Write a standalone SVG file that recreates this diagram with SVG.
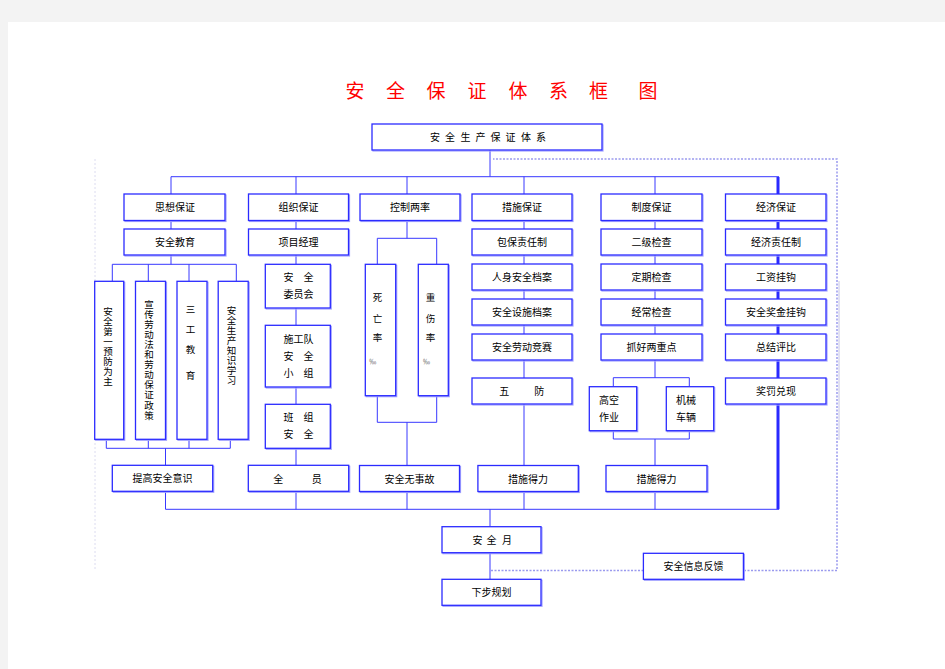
<svg xmlns="http://www.w3.org/2000/svg" width="945" height="669" viewBox="0 0 945 669">
<style>
.bx{fill:#fff;stroke:#2b2bff;stroke-width:1.3}
.sh{fill:none;stroke:#a3a3ff;stroke-width:1.2}
.t{font-family:"Noto Sans CJK SC","Liberation Sans",sans-serif;font-size:10px;fill:#000;text-anchor:middle}
.v{font-size:9.5px}
.pm{font-size:7px;fill:#555}
.ln{stroke:#3838ff;stroke-width:1;fill:none}
.thick{stroke:#2a2aff;stroke-width:3;fill:none}
.dot{stroke:#9a9aee;stroke-width:1.5;stroke-dasharray:2 1.5;fill:none}
.faint{stroke:#dcdcf0;stroke-width:1;stroke-dasharray:2 2;fill:none}
.title{font-family:"Noto Sans CJK SC","Liberation Serif",serif;font-size:19px;fill:#ff0000;text-anchor:middle}
</style>
<rect x="0" y="0" width="945" height="669" fill="#f3f3f3"/>
<rect x="8" y="22" width="937" height="647" fill="#fff"/>
<text class="title" x="355 395.5 436 477 518 558.5 598.5 648" y="98">安全保证体系框图</text>

<g id="connectors">
<path class="faint" d="M95,159 V570"/>
<path d="M839,281 V440" stroke="#c4c4e4" stroke-width="1" fill="none"/>
<path class="dot" d="M491,570.5 H643 M744,570.5 H837 V159 H493"/>
<path class="thick" d="M778,177 V509.3"/>
<path class="ln" d="M490,150 V176.7 M171,176.7 H779 M171,176.7 V194 M296,176.7 V194 M407,176.7 V194 M524,176.7 V194 M655,176.7 V194"/>
<path class="ln" d="M171,220.5 V229 M171,255 V264.3 M112.3,264.3 H236.3 M112.3,264.3 V281.3 M148.3,264.3 V281.3 M189,264.3 V281.3 M236.3,264.3 V281.3 M106.3,439.3 V448.3 M148.3,439.3 V448.3 M189,439.3 V448.3 M230.3,439.3 V448.3 M106.3,448.3 H230.3 M165.5,448.3 V465.3 M165.5,491.5 V509.3"/>
<path class="ln" d="M296,220.5 V229 M296,255 V264.3 M296,308 V325.3 M296,387 V404.3 M296,448.3 V465.3 M296,491.5 V509.3"/>
<path class="ln" d="M407,220.5 V238.3 M377.3,238.3 H436.7 M377.3,238.3 V264.3 M436.7,238.3 V264.3 M377.3,395.7 V422.3 M436.7,395.7 V422.3 M377.3,422.3 H436.7 M407,422.3 V465.5 M407,491.5 V509.3"/>
<path class="ln" d="M524,220.5 V229 M524,255 V264 M524,290 V299 M524,325 V334 M524,360 V378 M524,404 V465.5 M524,491.5 V509.3"/>
<path class="ln" d="M655,220.5 V229 M655,255 V264 M655,290 V299 M655,325 V334 M655,360 V377.7 M613.3,377.7 H689.3 M613.3,377.7 V386.7 M689.3,377.7 V386.7 M613.3,430.7 V439 M689.3,430.7 V439 M613.3,439 H689.3 M655,439 V465.5 M655,491.5 V509.3"/>
<path class="ln" d="M165.5,509.3 H779 M490,509.3 V526.7 M490,552.7 V579.3"/>
</g>

<g id="n-top"><rect class="sh" x="373" y="125" width="230" height="26"/><rect class="bx" x="372" y="124" width="230" height="26"/><text class="t" x="435 450 465.5 480.5 495.5 510.5 526 541" y="141">安全生产保证体系</text></g>

<g id="n-sixiang"><rect class="sh" x="125" y="195" width="101" height="26.5"/><rect class="bx" x="124" y="194" width="101" height="26.5"/><text class="t" x="175" y="211">思想保证</text></g>
<g id="n-zuzhi"><rect class="sh" x="249.5" y="195" width="100" height="26.5"/><rect class="bx" x="248.5" y="194" width="100" height="26.5"/><text class="t" x="298.5" y="211">组织保证</text></g>
<g id="n-kongzhi"><rect class="sh" x="361" y="195" width="100" height="26.5"/><rect class="bx" x="360" y="194" width="100" height="26.5"/><text class="t" x="410" y="211">控制两率</text></g>
<g id="n-cuoshi"><rect class="sh" x="473" y="195" width="100" height="26.5"/><rect class="bx" x="472" y="194" width="100" height="26.5"/><text class="t" x="522" y="211">措施保证</text></g>
<g id="n-zhidu"><rect class="sh" x="602" y="195" width="101" height="26.5"/><rect class="bx" x="601" y="194" width="101" height="26.5"/><text class="t" x="651.5" y="211">制度保证</text></g>
<g id="n-jingji"><rect class="sh" x="726.5" y="195" width="100.5" height="26.5"/><rect class="bx" x="725.5" y="194" width="100.5" height="26.5"/><text class="t" x="776" y="211">经济保证</text></g>

<g id="n-anquanjiaoyu"><rect class="sh" x="125" y="230" width="101" height="26"/><rect class="bx" x="124" y="229" width="101" height="26"/><text class="t" x="175" y="246">安全教育</text></g>
<g id="n-v1"><rect class="sh" x="95.7" y="282.3" width="29" height="158"/><rect class="bx" x="94.7" y="281.3" width="29" height="158"/><text class="t v" x="108 108 108 108 108 108 108 108" y="314.8 324.8 334.8 344.8 354.8 364.8 374.8 384.8">安全第一预防为主</text></g>
<g id="n-v2"><rect class="sh" x="136.5" y="282.3" width="30" height="158"/><rect class="bx" x="135.5" y="281.3" width="30" height="158"/><text class="t v" x="149 149 149 149 149 149 149 149 149 149 149 149" y="307.5 317.6 327.7 337.8 347.9 358 368.1 378.2 388.3 398.4 408.5 418.6">宣传劳动法和劳动保证政策</text></g>
<g id="n-v3"><rect class="sh" x="178" y="282.3" width="30" height="158"/><rect class="bx" x="177" y="281.3" width="30" height="158"/><text class="t v" x="190.5 190.5 190.5 190.5" y="313.3 332.8 352.5 379">三工教育</text></g>
<g id="n-v4"><rect class="sh" x="219.2" y="282.3" width="30" height="158"/><rect class="bx" x="218.2" y="281.3" width="30" height="158"/><text class="t v" x="231.5 231.5 231.5 231.5 231.5 231.5 231.5 231.5" y="313.5 323.5 333.5 343.5 353.5 363.5 373.5 383.5">安全生产知识学习</text></g>
<g id="n-tigao"><rect class="sh" x="113.3" y="466.3" width="100.4" height="26"/><rect class="bx" x="112.3" y="465.3" width="100.4" height="26"/><text class="t" x="162.5" y="482.3">提高安全意识</text></g>

<g id="n-xiangmu"><rect class="sh" x="249.5" y="230" width="100" height="26"/><rect class="bx" x="248.5" y="229" width="100" height="26"/><text class="t" x="298.5" y="246">项目经理</text></g>
<g id="n-weiyuanhui"><rect class="sh" x="266.3" y="265.3" width="65" height="43.7"/><rect class="bx" x="265.3" y="264.3" width="65" height="43.7"/><text class="t" x="298.5" y="281.2">安　全</text><text class="t" x="298.5" y="298.2">委员会</text></g>
<g id="n-shigongdui"><rect class="sh" x="266.3" y="326.3" width="65" height="61.7"/><rect class="bx" x="265.3" y="325.3" width="65" height="61.7"/><text class="t" x="298.5" y="342.5">施工队</text><text class="t" x="298.5" y="360.2">安　全</text><text class="t" x="298.5" y="377.2">小　组</text></g>
<g id="n-banzu"><rect class="sh" x="266.3" y="405.3" width="65" height="44"/><rect class="bx" x="265.3" y="404.3" width="65" height="44"/><text class="t" x="298.5" y="420.5">班　组</text><text class="t" x="298.5" y="438.2">安　全</text></g>
<g id="n-quanyuan"><rect class="sh" x="249.3" y="466.3" width="100.4" height="26"/><rect class="bx" x="248.3" y="465.3" width="100.4" height="26"/><text class="t" x="278.3 316.7" y="482.5">全员</text></g>

<g id="n-siwang"><rect class="sh" x="366.3" y="265.3" width="30.4" height="131.4"/><rect class="bx" x="365.3" y="264.3" width="30.4" height="131.4"/><text class="t v" x="377.5 377.5 377.5" y="301.3 321.8 341.3">死亡率</text><text class="t pm" x="372.7" y="363.5">‰</text></g>
<g id="n-zhongshang"><rect class="sh" x="419.3" y="265.3" width="30" height="131.4"/><rect class="bx" x="418.3" y="264.3" width="30" height="131.4"/><text class="t v" x="430.5 430.5 430.5" y="301.3 321.8 341.3">重伤率</text><text class="t pm" x="426.5" y="363.5">‰</text></g>
<g id="n-wushigu"><rect class="sh" x="360.5" y="466.5" width="100" height="26"/><rect class="bx" x="359.5" y="465.5" width="100" height="26"/><text class="t" x="409.5" y="482.5">安全无事故</text></g>

<g id="n-baobao"><rect class="sh" x="473" y="230" width="100" height="26"/><rect class="bx" x="472" y="229" width="100" height="26"/><text class="t" x="522" y="246">包保责任制</text></g>
<g id="n-renshen"><rect class="sh" x="473" y="265" width="100" height="26"/><rect class="bx" x="472" y="264" width="100" height="26"/><text class="t" x="522" y="281">人身安全档案</text></g>
<g id="n-sheshi"><rect class="sh" x="473" y="300" width="100" height="26"/><rect class="bx" x="472" y="299" width="100" height="26"/><text class="t" x="522" y="316">安全设施档案</text></g>
<g id="n-jingsai"><rect class="sh" x="473" y="335" width="100" height="26"/><rect class="bx" x="472" y="334" width="100" height="26"/><text class="t" x="522" y="351">安全劳动竞赛</text></g>
<g id="n-wufang"><rect class="sh" x="473" y="379" width="100" height="26"/><rect class="bx" x="472" y="378" width="100" height="26"/><text class="t" x="504.3 539.3" y="395">五防</text></g>
<g id="n-deli1"><rect class="sh" x="478.9" y="466.5" width="100.4" height="26"/><rect class="bx" x="477.9" y="465.5" width="100.4" height="26"/><text class="t" x="528" y="482.5">措施得力</text></g>

<g id="n-erji"><rect class="sh" x="602" y="230" width="101" height="26"/><rect class="bx" x="601" y="229" width="101" height="26"/><text class="t" x="651.5" y="246">二级检查</text></g>
<g id="n-dingqi"><rect class="sh" x="602" y="265" width="101" height="26"/><rect class="bx" x="601" y="264" width="101" height="26"/><text class="t" x="651.5" y="281">定期检查</text></g>
<g id="n-jingchang"><rect class="sh" x="602" y="300" width="101" height="26"/><rect class="bx" x="601" y="299" width="101" height="26"/><text class="t" x="651.5" y="316">经常检查</text></g>
<g id="n-zhuahao"><rect class="sh" x="602" y="335" width="101" height="26"/><rect class="bx" x="601" y="334" width="101" height="26"/><text class="t" x="651.5" y="351">抓好两重点</text></g>
<g id="n-gaokong"><rect class="sh" x="590.3" y="387.7" width="47.4" height="44"/><rect class="bx" x="589.3" y="386.7" width="47.4" height="44"/><text class="t" x="609" y="403.8">高空</text><text class="t" x="609" y="420.8">作业</text></g>
<g id="n-jixie"><rect class="sh" x="667.3" y="387.7" width="47.4" height="44"/><rect class="bx" x="666.3" y="386.7" width="47.4" height="44"/><text class="t" x="686" y="403.8">机械</text><text class="t" x="686" y="420.8">车辆</text></g>
<g id="n-deli2"><rect class="sh" x="607" y="466.5" width="101" height="26"/><rect class="bx" x="606" y="465.5" width="101" height="26"/><text class="t" x="656.5" y="482.5">措施得力</text></g>

<g id="n-jingjizeren"><rect class="sh" x="726.5" y="230" width="100.5" height="26"/><rect class="bx" x="725.5" y="229" width="100.5" height="26"/><text class="t" x="776" y="246">经济责任制</text></g>
<g id="n-gongzi"><rect class="sh" x="726.5" y="265" width="100.5" height="26"/><rect class="bx" x="725.5" y="264" width="100.5" height="26"/><text class="t" x="776" y="281">工资挂钩</text></g>
<g id="n-jiangjin"><rect class="sh" x="726.5" y="300" width="100.5" height="26"/><rect class="bx" x="725.5" y="299" width="100.5" height="26"/><text class="t" x="776" y="316">安全奖金挂钩</text></g>
<g id="n-zongjie"><rect class="sh" x="726.5" y="335" width="100.5" height="26"/><rect class="bx" x="725.5" y="334" width="100.5" height="26"/><text class="t" x="776" y="351">总结评比</text></g>
<g id="n-jiangfa"><rect class="sh" x="726.5" y="379" width="100.5" height="26"/><rect class="bx" x="725.5" y="378" width="100.5" height="26"/><text class="t" x="776" y="395">奖罚兑现</text></g>

<g id="n-anquanyue"><rect class="sh" x="443" y="527.7" width="99" height="26"/><rect class="bx" x="442" y="526.7" width="99" height="26"/><text class="t" x="477.5 491.5 507" y="543.5">安全月</text></g>
<g id="n-xiabu"><rect class="sh" x="443" y="580.3" width="99" height="26"/><rect class="bx" x="442" y="579.3" width="99" height="26"/><text class="t" x="491.5" y="596">下步规划</text></g>
<g id="n-fankui"><rect class="sh" x="644.4" y="554.3" width="100" height="26"/><rect class="bx" x="643.4" y="553.3" width="100" height="26"/><text class="t" x="693.5" y="570">安全信息反馈</text></g>
</svg>
